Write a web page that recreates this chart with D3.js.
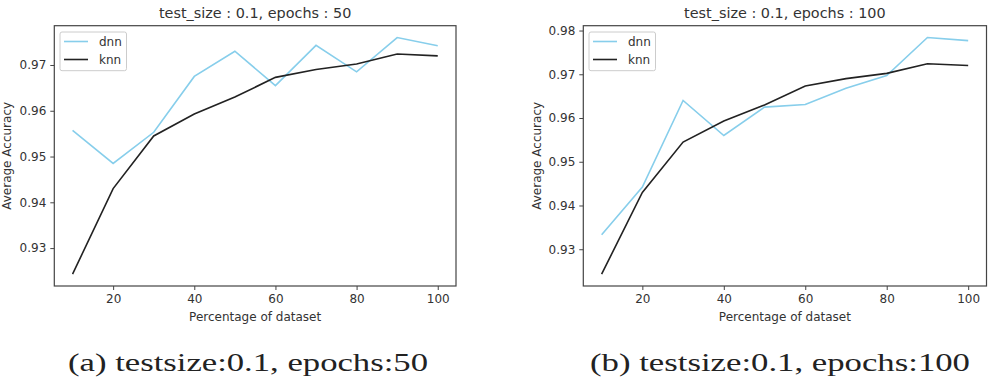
<!DOCTYPE html>
<html>
<head>
<meta charset="utf-8">
<script src="https://cdn.jsdelivr.net/npm/d3@7"></script>
<style>
  body { margin: 0; background: #fff; }
  svg { display: block; }
  text { font-family: "DejaVu Sans", sans-serif; fill: #333; }
  text.caption { font-family: "Liberation Serif", "Times New Roman", serif; fill: #222; }
</style>
</head>
<body>
<svg width="988" height="386"></svg>
<script>
const percentages = [10, 20, 30, 40, 50, 60, 70, 80, 90, 100];
const knn = [0.9243, 0.9430, 0.9545, 0.9593, 0.9630, 0.9673, 0.9690, 0.9702, 0.9724, 0.9720];
const dnnEpochs50 = [0.9557, 0.9485, 0.9553, 0.9675, 0.9730, 0.9655, 0.9743, 0.9685, 0.9760, 0.9742];
const dnnEpochs100 = [0.9333, 0.9442, 0.9640, 0.9560, 0.9625, 0.9631, 0.9668, 0.9697, 0.9784, 0.9777];
const xTicks = [20, 40, 60, 80, 100];
const yTicks50 = [0.93, 0.94, 0.95, 0.96, 0.97];
const yTicks100 = [0.93, 0.94, 0.95, 0.96, 0.97, 0.98];

const panels = [
  { title: "test_size : 0.1, epochs : 50", dnn: dnnEpochs50, yTicks: yTicks50,
    caption: "(a) testsize:0.1, epochs:50",
    box: { left: 54.3, right: 456, top: 25.7, bottom: 286 },
    captionBox: [68, 360], ylabelX: 7 },
  { title: "test_size : 0.1, epochs : 100", dnn: dnnEpochs100, yTicks: yTicks100,
    caption: "(b) testsize:0.1, epochs:100",
    box: { left: 583.3, right: 986.5, top: 25.7, bottom: 286 },
    captionBox: [590, 380], ylabelX: 537 },
];

const svg = d3.select("svg");
const colors = { dnn: "#87ceeb", knn: "#222" };

panels.forEach((p) => {
  const b = p.box;
  const all = p.dnn.concat(knn);
  const [lo, hi] = d3.extent(all);
  const pad = (hi - lo) * 0.05;
  const x = d3.scaleLinear().domain([5.5, 104.5]).range([b.left, b.right]);
  const y = d3.scaleLinear().domain([lo - pad, hi + pad]).range([b.bottom, b.top]);

  const g = svg.append("g");

  const xAxis = g.append("g")
    .attr("transform", `translate(0,${b.bottom})`)
    .call(d3.axisBottom(x).tickValues(xTicks).tickSize(4).tickPadding(4));
  const yAxis = g.append("g")
    .attr("transform", `translate(${b.left},0)`)
    .call(d3.axisLeft(y).tickValues(p.yTicks).tickFormat(d3.format(".2f")).tickSize(4).tickPadding(4));

  [xAxis, yAxis].forEach((a) => {
    a.select(".domain").remove();
    a.selectAll("line").attr("stroke", "#444").attr("stroke-width", 1);
    a.selectAll("text").attr("font-size", 12).attr("fill", "#2a2a2a")
      .attr("font-family", "DejaVu Sans");
  });

  const line = d3.line().x((d, i) => x(percentages[i])).y((d) => y(d));

  g.append("path").datum(p.dnn).attr("d", line)
    .attr("fill", "none").attr("stroke", colors.dnn).attr("stroke-width", 1.6);
  g.append("path").datum(knn).attr("d", line)
    .attr("fill", "none").attr("stroke", colors.knn).attr("stroke-width", 1.6);

  g.append("rect")
    .attr("x", b.left).attr("y", b.top)
    .attr("width", b.right - b.left).attr("height", b.bottom - b.top)
    .attr("fill", "none").attr("stroke", "#444").attr("stroke-width", 1.2);

  g.append("text")
    .attr("x", (b.left + b.right) / 2).attr("y", 17.5)
    .attr("text-anchor", "middle").attr("font-size", 14.4)
    .text(p.title);

  g.append("text")
    .attr("x", (b.left + b.right) / 2).attr("y", 320.5)
    .attr("text-anchor", "middle").attr("font-size", 12)
    .text("Percentage of dataset");

  g.append("text")
    .attr("transform", `translate(${p.ylabelX + 4},${(b.top + b.bottom) / 2}) rotate(-90)`)
    .attr("text-anchor", "middle").attr("font-size", 12)
    .text("Average Accuracy");

  // legend
  const lg = g.append("g").attr("transform", `translate(${b.left + 5.7},${b.top + 6.3})`);
  lg.append("rect").attr("width", 66.5).attr("height", 38.7).attr("rx", 2)
    .attr("fill", "#fff").attr("fill-opacity", 0.8)
    .attr("stroke", "#ccc").attr("stroke-width", 1);
  const entries = [["dnn", colors.dnn], ["knn", colors.knn]];
  entries.forEach(([name, c], i) => {
    const yy = 9.5 + i * 18;
    lg.append("line").attr("x1", 4).attr("x2", 28).attr("y1", yy).attr("y2", yy)
      .attr("stroke", c).attr("stroke-width", 1.6);
    lg.append("text").attr("x", 39).attr("y", yy + 4.3).attr("font-size", 12).text(name);
  });

  svg.append("text").attr("class", "caption")
    .attr("x", p.captionBox[0]).attr("y", 371)
    .attr("font-size", 25)
    .attr("textLength", p.captionBox[1]).attr("lengthAdjust", "spacingAndGlyphs")
    .text(p.caption);
});
</script>
</body>
</html>
